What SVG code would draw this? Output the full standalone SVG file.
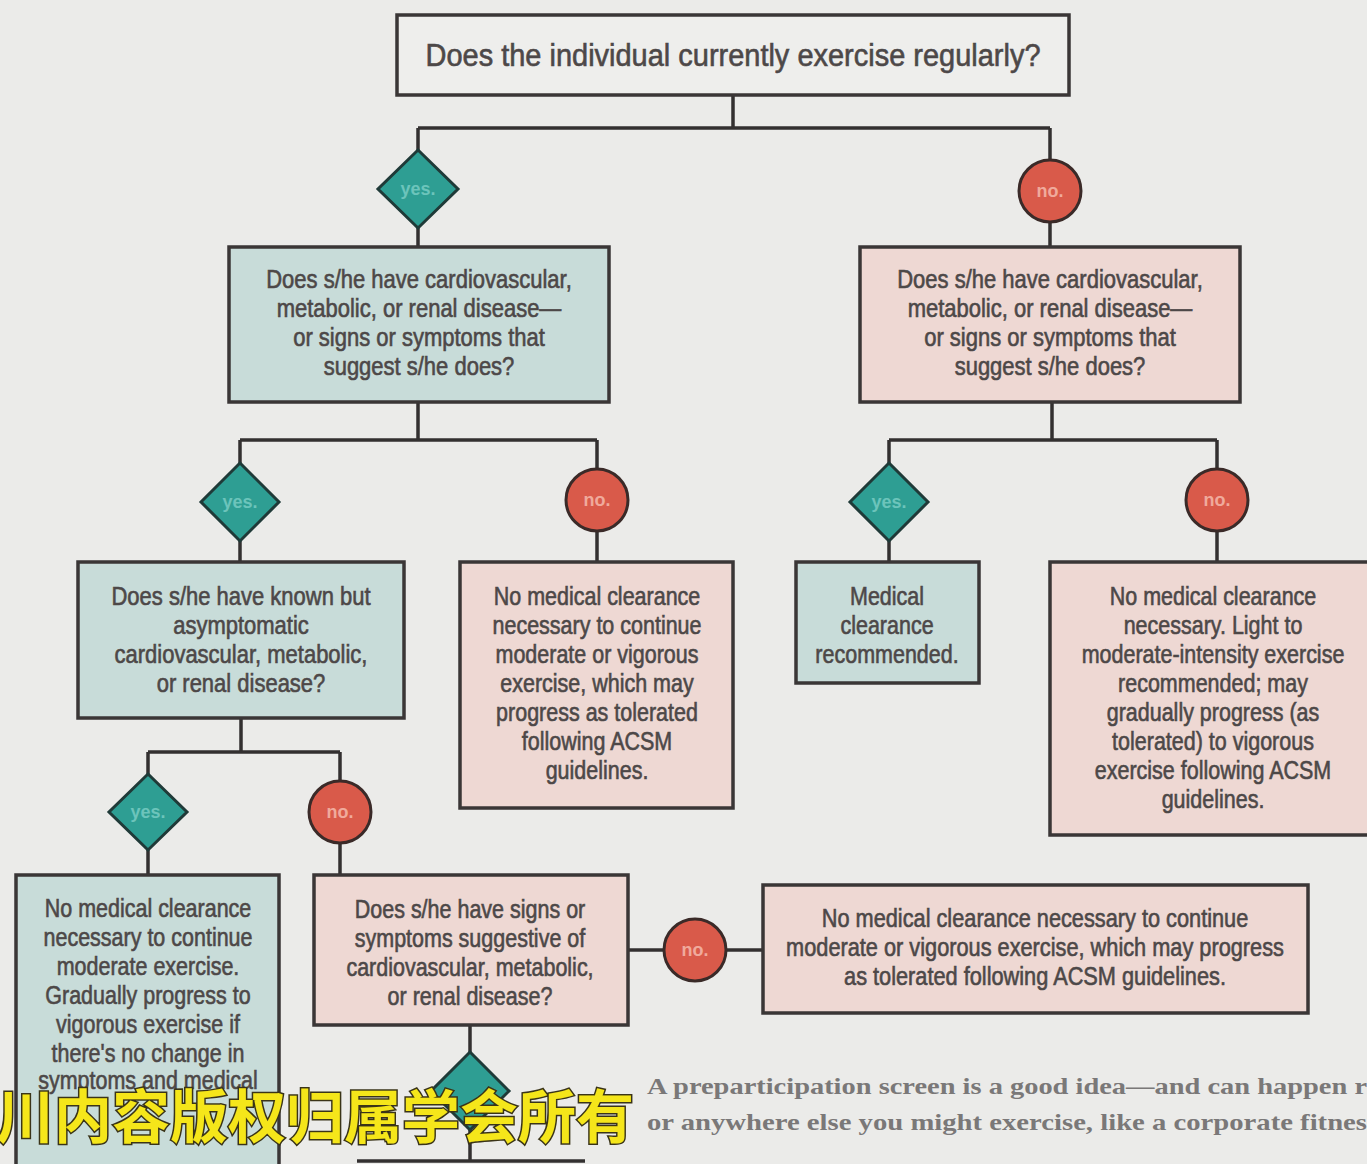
<svg xmlns="http://www.w3.org/2000/svg" width="1367" height="1164" viewBox="0 0 1367 1164">
<style>
.bg{fill:#ebebe9}
.box{stroke:#3a3636;stroke-width:3.5}
.t{fill:#eeeeec}
.teal{fill:#c8dcd9}
.pink{fill:#eed8d3}
.txt{font-family:"Liberation Sans",Arial,sans-serif;fill:#4d4848;stroke:#4d4848;stroke-width:0.6;text-anchor:middle;font-size:25px}
.title{font-size:31px}
.line{stroke:#333030;stroke-width:3.5;fill:none}
.yes{fill:#2e9e93;stroke:#1f3a38;stroke-width:3}
.no{fill:#d95a4a;stroke:#3a2a28;stroke-width:3}
.lbl{font-family:"Liberation Sans",Arial,sans-serif;font-size:18px;font-weight:bold;text-anchor:middle}
.ly{fill:#6cc4bb}
.ln{fill:#f0aa9c}
.cap{font-family:"Liberation Serif",serif;font-size:23px;font-weight:bold;fill:#7a7878}
.wm{font-family:"Noto Sans CJK SC",sans-serif;font-size:58px;fill:#f5e61a;stroke:#3a3418;stroke-width:3;paint-order:stroke;font-weight:bold}
</style>
<rect class="bg" x="0" y="0" width="1367" height="1164"/>
<g id="connectors">
<path class="line" d="M733 95V128M418 128H1050M418 128V150M1050 128V160"/>
<path class="line" d="M418 228V247M1050 222V247"/>
<path class="line" d="M418 402V440M240 440H597M240 440V463M597 440V468"/>
<path class="line" d="M1052 402V440M889 440H1217M889 440V463M1217 440V468"/>
<path class="line" d="M240 541V562M597 532V562M889 541V562M1217 532V562"/>
<path class="line" d="M241 718V752M148 752H340M148 752V774M340 752V780"/>
<path class="line" d="M148 850V875M340 844V875"/>
<path class="line" d="M628 950H763"/>
<path class="line" d="M470 1025V1052M470 1130V1160"/>
<path class="line" d="M357 1161H585"/>
</g>
<g id="n-start"><rect class="box t" x="397" y="15" width="672" height="80"/><text class="txt title" x="733" y="66" textLength="615" lengthAdjust="spacingAndGlyphs">Does the individual currently exercise regularly?</text></g>
<g id="d-yes1"><polygon class="yes" points="418,150 458,189 418,228 378,189"/><text class="lbl ly" x="418" y="195">yes.</text></g>
<g id="d-no1"><circle class="no" cx="1050" cy="191" r="31"/><text class="lbl ln" x="1050" y="197">no.</text></g>
<g id="n-l1"><rect class="box teal" x="229" y="247" width="380" height="155"/><text class="txt" transform="translate(419 0) scale(0.88 1)"><tspan x="0" y="288">Does s/he have cardiovascular,</tspan><tspan x="0" y="317">metabolic, or renal disease—</tspan><tspan x="0" y="346">or signs or symptoms that</tspan><tspan x="0" y="375">suggest s/he does?</tspan></text></g>
<g id="n-r1"><rect class="box pink" x="860" y="247" width="380" height="155"/><text class="txt" transform="translate(1050 0) scale(0.88 1)"><tspan x="0" y="288">Does s/he have cardiovascular,</tspan><tspan x="0" y="317">metabolic, or renal disease—</tspan><tspan x="0" y="346">or signs or symptoms that</tspan><tspan x="0" y="375">suggest s/he does?</tspan></text></g>
<g id="d-yes2"><polygon class="yes" points="240,463 279,502 240,541 201,502"/><text class="lbl ly" x="240" y="508">yes.</text></g>
<g id="d-no2"><circle class="no" cx="597" cy="500" r="31"/><text class="lbl ln" x="597" y="506">no.</text></g>
<g id="d-yes3"><polygon class="yes" points="889,463 928,502 889,541 850,502"/><text class="lbl ly" x="889" y="508">yes.</text></g>
<g id="d-no3"><circle class="no" cx="1217" cy="500" r="31"/><text class="lbl ln" x="1217" y="506">no.</text></g>
<g id="n-l2"><rect class="box teal" x="78" y="562" width="326" height="156"/><text class="txt" transform="translate(241 0) scale(0.88 1)"><tspan x="0" y="605">Does s/he have known but</tspan><tspan x="0" y="634">asymptomatic</tspan><tspan x="0" y="663">cardiovascular, metabolic,</tspan><tspan x="0" y="692">or renal disease?</tspan></text></g>
<g id="n-m1"><rect class="box pink" x="460" y="562" width="273" height="246"/><text class="txt" transform="translate(597 0) scale(0.86 1)"><tspan x="0" y="605">No medical clearance</tspan><tspan x="0" y="634">necessary to continue</tspan><tspan x="0" y="663">moderate or vigorous</tspan><tspan x="0" y="692">exercise, which may</tspan><tspan x="0" y="721">progress as tolerated</tspan><tspan x="0" y="750">following ACSM</tspan><tspan x="0" y="779">guidelines.</tspan></text></g>
<g id="n-med"><rect class="box teal" x="796" y="562" width="183" height="121"/><text class="txt" transform="translate(887 0) scale(0.86 1)"><tspan x="0" y="605">Medical</tspan><tspan x="0" y="634">clearance</tspan><tspan x="0" y="663">recommended.</tspan></text></g>
<g id="n-r2"><rect class="box pink" x="1050" y="562" width="330" height="273"/><text class="txt" transform="translate(1213 0) scale(0.86 1)"><tspan x="0" y="605">No medical clearance</tspan><tspan x="0" y="634">necessary. Light to</tspan><tspan x="0" y="663">moderate-intensity exercise</tspan><tspan x="0" y="692">recommended; may</tspan><tspan x="0" y="721">gradually progress (as</tspan><tspan x="0" y="750">tolerated) to vigorous</tspan><tspan x="0" y="779">exercise following ACSM</tspan><tspan x="0" y="808">guidelines.</tspan></text></g>
<g id="d-yes4"><polygon class="yes" points="148,774 187,812 148,850 109,812"/><text class="lbl ly" x="148" y="818">yes.</text></g>
<g id="d-no4"><circle class="no" cx="340" cy="812" r="31"/><text class="lbl ln" x="340" y="818">no.</text></g>
<g id="n-ll"><rect class="box teal" x="16" y="875" width="263" height="300"/><text class="txt" transform="translate(148 0) scale(0.86 1)"><tspan x="0" y="917">No medical clearance</tspan><tspan x="0" y="946">necessary to continue</tspan><tspan x="0" y="975">moderate exercise.</tspan><tspan x="0" y="1004">Gradually progress to</tspan><tspan x="0" y="1033">vigorous exercise if</tspan><tspan x="0" y="1062">there's no change in</tspan><tspan x="0" y="1089">symptoms and medical</tspan></text></g>
<g id="n-q"><rect class="box pink" x="314" y="875" width="314" height="150"/><text class="txt" transform="translate(470 0) scale(0.86 1)"><tspan x="0" y="918">Does s/he have signs or</tspan><tspan x="0" y="947">symptoms suggestive of</tspan><tspan x="0" y="976">cardiovascular, metabolic,</tspan><tspan x="0" y="1005">or renal disease?</tspan></text></g>
<g id="d-no5"><circle class="no" cx="695" cy="950" r="31"/><text class="lbl ln" x="695" y="956">no.</text></g>
<g id="n-n5"><rect class="box pink" x="763" y="885" width="545" height="128"/><text class="txt" transform="translate(1035 0) scale(0.87 1)"><tspan x="0" y="927">No medical clearance necessary to continue</tspan><tspan x="0" y="956">moderate or vigorous exercise, which may progress</tspan><tspan x="0" y="985">as tolerated following ACSM guidelines.</tspan></text></g>
<g id="d-yes5"><polygon class="yes" points="470,1052 509,1091 470,1130 431,1091"/></g>
<text class="cap" x="647" y="1094" textLength="720" lengthAdjust="spacingAndGlyphs">A preparticipation screen is a good idea—and can happen r</text>
<text class="cap" x="647" y="1130" textLength="720" lengthAdjust="spacingAndGlyphs">or anywhere else you might exercise, like a corporate fitnes</text>
<text class="wm" x="-4" y="1138">川内容版权归属学会所有</text>
</svg>
